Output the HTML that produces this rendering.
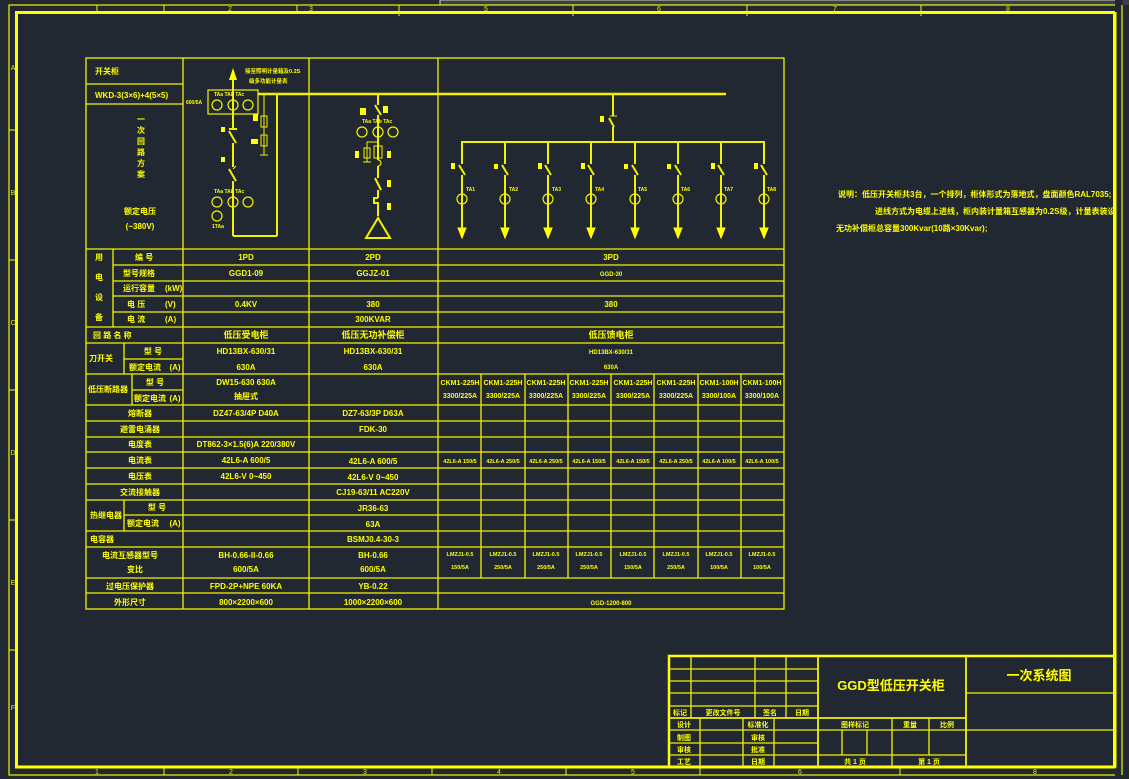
<!DOCTYPE html>
<html><head><meta charset="utf-8"><style>
html,body{margin:0;padding:0;background:#222831;}
svg{display:block;}
text{font-family:"Liberation Sans","Noto Sans CJK SC",sans-serif;fill:#ffff00;font-weight:bold;}
.t{font-size:8px;text-anchor:middle;}
.l{font-size:8px;}
.s{font-size:7px;text-anchor:middle;font-weight:normal;fill:#e8e800;}
.g line,.g rect,.g path,.g circle,.g polyline{stroke:#f2f200;fill:none;}
</style></head><body>
<svg width="1129" height="779" viewBox="0 0 1129 779" xmlns="http://www.w3.org/2000/svg">
<rect width="1129" height="779" fill="#222831"/>
<!-- top window strip -->
<rect x="440" y="0" width="689" height="5" fill="#3a3f46" stroke="#cfcfcf" stroke-width="1"/>
<g class="g">
<!-- frames -->
<rect x="9" y="5" width="1113" height="770" stroke-width="1.2"/>
<rect x="16.5" y="12.5" width="1098" height="754.5" stroke-width="3" style="stroke:#ffff00"/>
<!-- ruler ticks -->
<g stroke-width="1">
<line x1="97" y1="5" x2="97" y2="12"/><line x1="164" y1="5" x2="164" y2="12"/><line x1="297" y1="5" x2="297" y2="12"/><line x1="399" y1="5" x2="399" y2="16"/><line x1="573" y1="5" x2="573" y2="16"/><line x1="747" y1="5" x2="747" y2="16"/><line x1="921" y1="5" x2="921" y2="16"/>
<line x1="164" y1="767" x2="164" y2="775"/><line x1="298" y1="767" x2="298" y2="775"/><line x1="432" y1="767" x2="432" y2="775"/><line x1="566" y1="767" x2="566" y2="775"/><line x1="700" y1="767" x2="700" y2="775"/><line x1="900" y1="767" x2="900" y2="775"/>
<line x1="9" y1="130" x2="16" y2="130"/><line x1="9" y1="260" x2="16" y2="260"/><line x1="9" y1="390" x2="16" y2="390"/><line x1="9" y1="520" x2="16" y2="520"/><line x1="9" y1="650" x2="16" y2="650"/>
<line x1="1115" y1="130" x2="1122" y2="130"/><line x1="1115" y1="390" x2="1122" y2="390"/><line x1="1115" y1="650" x2="1122" y2="650"/>
</g>
</g>
<g font-size="6">
<text x="230" y="11" class="s">2</text><text x="311" y="11" class="s">3</text><text x="486" y="11" class="s">5</text><text x="659" y="11" class="s">6</text><text x="835" y="11" class="s">7</text><text x="1008" y="11" class="s">8</text>
<text x="97" y="774" class="s">1</text><text x="231" y="774" class="s">2</text><text x="365" y="774" class="s">3</text><text x="499" y="774" class="s">4</text><text x="633" y="774" class="s">5</text><text x="800" y="774" class="s">6</text><text x="1035" y="774" class="s">8</text>
<text x="13" y="70" class="s">A</text><text x="13" y="195" class="s">B</text><text x="13" y="325" class="s">C</text><text x="13" y="455" class="s">D</text><text x="13" y="585" class="s">E</text><text x="13" y="710" class="s">F</text>
</g>

<!-- main table -->
<g class="g" stroke-width="1.3">
<rect x="86" y="58" width="698" height="551"/>
<line x1="183" y1="58" x2="183" y2="609"/>
<line x1="309" y1="58" x2="309" y2="609"/>
<line x1="438" y1="58" x2="438" y2="609"/>
<line x1="86" y1="84" x2="183" y2="84"/>
<line x1="86" y1="104" x2="183" y2="104"/>
<line x1="86" y1="249" x2="784" y2="249"/>
<line x1="113" y1="249" x2="113" y2="327"/>
<line x1="113" y1="265" x2="784" y2="265"/>
<line x1="113" y1="281" x2="784" y2="281"/>
<line x1="113" y1="296" x2="784" y2="296"/>
<line x1="113" y1="312" x2="784" y2="312"/>
<line x1="86" y1="327" x2="784" y2="327"/>
<line x1="86" y1="343" x2="784" y2="343"/>
<line x1="124" y1="343" x2="124" y2="374"/>
<line x1="124" y1="359" x2="183" y2="359"/>
<line x1="86" y1="374" x2="784" y2="374"/>
<line x1="132" y1="374" x2="132" y2="405"/>
<line x1="132" y1="390" x2="183" y2="390"/>
<line x1="86" y1="405" x2="784" y2="405"/>
<line x1="86" y1="421" x2="784" y2="421"/>
<line x1="86" y1="437" x2="784" y2="437"/>
<line x1="86" y1="452" x2="784" y2="452"/>
<line x1="86" y1="468" x2="784" y2="468"/>
<line x1="86" y1="484" x2="784" y2="484"/>
<line x1="86" y1="500" x2="784" y2="500"/>
<line x1="124" y1="500" x2="124" y2="531"/>
<line x1="124" y1="515" x2="784" y2="515"/>
<line x1="86" y1="531" x2="784" y2="531"/>
<line x1="86" y1="547" x2="784" y2="547"/>
<line x1="86" y1="578" x2="784" y2="578"/>
<line x1="86" y1="593" x2="784" y2="593"/>
<!-- sub columns right -->
<line x1="481" y1="374" x2="481" y2="578"/>
<line x1="525" y1="374" x2="525" y2="578"/>
<line x1="568" y1="374" x2="568" y2="578"/>
<line x1="611" y1="374" x2="611" y2="578"/>
<line x1="654" y1="374" x2="654" y2="578"/>
<line x1="698" y1="374" x2="698" y2="578"/>
<line x1="741" y1="374" x2="741" y2="578"/>
</g>

<!-- left label texts -->
<text x="95" y="74" class="l">开关柜</text>
<text x="95" y="98" class="l" font-size="7">WKD-3(3×6)+4(5×5)</text>
<text x="141" y="122" class="t">一</text><text x="141" y="133" class="t">次</text><text x="141" y="144" class="t">回</text><text x="141" y="155" class="t">路</text><text x="141" y="166" class="t">方</text><text x="141" y="177" class="t">案</text>
<text x="140" y="214" class="t">额定电压</text>
<text x="140" y="229" class="t">(~380V)</text>
<text x="99" y="260" class="t">用</text><text x="99" y="280" class="t">电</text><text x="99" y="300" class="t">设</text><text x="99" y="320" class="t">备</text>
<text x="135" y="260" class="l">编 号</text>
<text x="123" y="276" class="l">型号规格</text>
<text x="123" y="291" class="l">运行容量</text><text x="165" y="291" class="l">(kW)</text>
<text x="127" y="307" class="l">电 压</text><text x="165" y="307" class="l">(V)</text>
<text x="127" y="322" class="l">电 流</text><text x="165" y="322" class="l">(A)</text>
<text x="93" y="338" class="l">回 路 名 称</text>
<text x="89" y="361" class="l">刀开关</text>
<text x="153" y="354" class="t">型 号</text>
<text x="145" y="370" class="t">额定电流</text><text x="175" y="370" class="t">(A)</text>
<text x="88" y="392" class="l" font-size="7">低压断路器</text>
<text x="155" y="385" class="t">型 号</text>
<text x="150" y="401" class="t">额定电流</text><text x="175" y="401" class="t">(A)</text>
<text x="140" y="416" class="t">熔断器</text>
<text x="140" y="432" class="t">避雷电涌器</text>
<text x="140" y="447" class="t">电度表</text>
<text x="140" y="463" class="t">电流表</text>
<text x="140" y="479" class="t">电压表</text>
<text x="140" y="495" class="t">交流接触器</text>
<text x="90" y="518" class="l">热继电器</text>
<text x="157" y="510" class="t">型 号</text>
<text x="143" y="526" class="t">额定电流</text><text x="175" y="526" class="t">(A)</text>
<text x="90" y="542" class="l">电容器</text>
<text x="130" y="558" class="t">电流互感器型号</text>
<text x="135" y="572" class="t">变比</text>
<text x="130" y="589" class="t">过电压保护器</text>
<text x="130" y="605" class="t">外形尺寸</text>

<!-- column 1 -->
<g class="t">
<text x="246" y="260">1PD</text><text x="246" y="276">GGD1-09</text><text x="246" y="307">0.4KV</text>
<text x="246" y="338" font-size="9">低压受电柜</text>
<text x="246" y="354">HD13BX-630/31</text><text x="246" y="370">630A</text>
<text x="246" y="385">DW15-630 630A</text><text x="246" y="399">抽屉式</text>
<text x="246" y="416">DZ47-63/4P D40A</text>
<text x="246" y="447">DT862-3×1.5(6)A 220/380V</text>
<text x="246" y="463">42L6-A 600/5</text><text x="246" y="479">42L6-V 0~450</text>
<text x="246" y="558">BH-0.66-II-0.66</text><text x="246" y="572">600/5A</text>
<text x="246" y="589">FPD-2P+NPE 60KA</text><text x="246" y="605">800×2200×600</text>
</g>
<!-- column 2 -->
<g class="t">
<text x="373" y="260">2PD</text><text x="373" y="276">GGJZ-01</text><text x="373" y="307">380</text><text x="373" y="322">300KVAR</text>
<text x="373" y="338" font-size="9">低压无功补偿柜</text>
<text x="373" y="354">HD13BX-630/31</text><text x="373" y="370">630A</text>
<text x="373" y="416">DZ7-63/3P D63A</text><text x="373" y="432">FDK-30</text>
<text x="373" y="464">42L6-A 600/5</text><text x="373" y="480">42L6-V 0~450</text>
<text x="373" y="495">CJ19-63/11 AC220V</text><text x="373" y="511">JR36-63</text><text x="373" y="527">63A</text>
<text x="373" y="542">BSMJ0.4-30-3</text>
<text x="373" y="558">BH-0.66</text><text x="373" y="572">600/5A</text>
<text x="373" y="589">YB-0.22</text><text x="373" y="605">1000×2200×600</text>
</g>
<!-- column 3 -->
<g class="t">
<text x="611" y="260">3PD</text><text x="611" y="276" font-size="6">GGD-30</text><text x="611" y="307">380</text>
<text x="611" y="338" font-size="9">低压馈电柜</text>
<text x="611" y="354" font-size="6">HD13BX-630/31</text><text x="611" y="369" font-size="6">630A</text>
<text x="611" y="605" font-size="6">GGD-1200-800</text>
</g>
<g class="s">
<text x="460" y="385">CKM1-225H</text><text x="460" y="398">3300/225A</text>
<text x="503" y="385">CKM1-225H</text><text x="503" y="398">3300/225A</text>
<text x="546" y="385">CKM1-225H</text><text x="546" y="398">3300/225A</text>
<text x="589" y="385">CKM1-225H</text><text x="589" y="398">3300/225A</text>
<text x="633" y="385">CKM1-225H</text><text x="633" y="398">3300/225A</text>
<text x="676" y="385">CKM1-225H</text><text x="676" y="398">3300/225A</text>
<text x="719" y="385">CKM1-100H</text><text x="719" y="398">3300/100A</text>
<text x="762" y="385">CKM1-100H</text><text x="762" y="398">3300/100A</text>
</g>
<g class="t" font-size="5.5" style="font-size:5.5px">
<text x="460" y="463">42L6-A 150/5</text><text x="503" y="463">42L6-A 250/5</text><text x="546" y="463">42L6-A 250/5</text><text x="589" y="463">42L6-A 150/5</text><text x="633" y="463">42L6-A 150/5</text><text x="676" y="463">42L6-A 250/5</text><text x="719" y="463">42L6-A 100/5</text><text x="762" y="463">42L6-A 100/5</text>
<text x="460" y="556">LMZJ1-0.5</text><text x="460" y="569">150/5A</text>
<text x="503" y="556">LMZJ1-0.5</text><text x="503" y="569">250/5A</text>
<text x="546" y="556">LMZJ1-0.5</text><text x="546" y="569">250/5A</text>
<text x="589" y="556">LMZJ1-0.5</text><text x="589" y="569">250/5A</text>
<text x="633" y="556">LMZJ1-0.5</text><text x="633" y="569">150/5A</text>
<text x="676" y="556">LMZJ1-0.5</text><text x="676" y="569">250/5A</text>
<text x="719" y="556">LMZJ1-0.5</text><text x="719" y="569">100/5A</text>
<text x="762" y="556">LMZJ1-0.5</text><text x="762" y="569">100/5A</text>
</g>

<!-- schematic -->
<g class="g" stroke-width="2">
<line x1="258" y1="94" x2="726" y2="94" stroke-width="2.5"/>
<!-- 1PD -->
<line x1="233" y1="75" x2="233" y2="129"/>
<line x1="229" y1="129" x2="237" y2="129"/>
<line x1="229" y1="131" x2="236" y2="143"/>
<line x1="233" y1="143" x2="233" y2="167"/>
<line x1="229" y1="169" x2="236" y2="181"/>
<line x1="233" y1="169" x2="236" y2="166" stroke-width="1"/>
<line x1="233" y1="181" x2="233" y2="236"/>
<line x1="233" y1="236" x2="277" y2="236"/>
<line x1="277" y1="236" x2="277" y2="94"/>
<line x1="264" y1="94" x2="264" y2="155" stroke-width="1"/>
<rect x="261" y="116" width="6" height="11" stroke-width="1"/>
<rect x="261" y="135" width="6" height="11" stroke-width="1"/>
<line x1="260" y1="155" x2="268" y2="155" stroke-width="1"/>
<rect x="208" y="90" width="50" height="24" stroke-width="1.2"/>
<circle cx="217" cy="105" r="5" stroke-width="1.2"/><circle cx="233" cy="105" r="5" stroke-width="1.2"/><circle cx="248" cy="105" r="5" stroke-width="1.2"/>
<circle cx="217" cy="202" r="5" stroke-width="1.2"/><circle cx="233" cy="202" r="5" stroke-width="1.2"/><circle cx="248" cy="202" r="5" stroke-width="1.2"/>
<circle cx="217" cy="216" r="5" stroke-width="1.2"/>
<!-- 2PD -->
<line x1="378" y1="94" x2="378" y2="105"/>
<line x1="375" y1="105" x2="381" y2="115"/>
<line x1="378" y1="115" x2="378" y2="160"/>
<circle cx="362" cy="132" r="5" stroke-width="1.2"/><circle cx="378" cy="132" r="5" stroke-width="1.2"/><circle cx="393" cy="132" r="5" stroke-width="1.2"/>
<polyline points="378,142 367,142 367,162" stroke-width="1"/>
<rect x="364" y="148" width="6" height="10" stroke-width="1"/>
<line x1="363" y1="162" x2="371" y2="162" stroke-width="1"/>
<rect x="374" y="146" width="8" height="12" stroke-width="1"/>
<path d="M378 160 a3 3 0 1 1 0 6" stroke-width="1.2"/>
<line x1="378" y1="166" x2="378" y2="178"/>
<line x1="375" y1="178" x2="381" y2="190"/>
<line x1="378" y1="190" x2="378" y2="198"/>
<polyline points="378,198 374,198 374,203 378,203 378,216"/>
<polygon points="378,218 366,238 390,238" style="stroke:#f2f200;fill:none" stroke-width="2"/>
<!-- 3PD -->
<line x1="613" y1="94" x2="613" y2="116"/>
<line x1="610" y1="116" x2="617" y2="116" stroke-width="1"/>
<line x1="609" y1="118" x2="614" y2="127"/>
<line x1="613" y1="127" x2="613" y2="142"/>
<line x1="461" y1="142" x2="765" y2="142"/>
</g>
<!-- feeder drops -->
<g class="g" stroke-width="2">
<g id="d"><line x1="462" y1="142" x2="462" y2="164"/><line x1="459" y1="165" x2="465" y2="175"/><line x1="462" y1="175" x2="462" y2="230"/><circle cx="462" cy="199" r="5" stroke-width="1.2"/><polygon points="458,228 466,228 462,238" style="fill:#ffff00;stroke:#ffff00" stroke-width="1"/></g>
<use href="#d" x="43"/><use href="#d" x="86"/><use href="#d" x="129"/><use href="#d" x="173"/><use href="#d" x="216"/><use href="#d" x="259"/><use href="#d" x="302"/>
</g>
<!-- small labels -->
<g fill="#ffff00">
<polygon points="233,68 229,80 237,80"/>
<rect x="221" y="127" width="4" height="5"/><rect x="221" y="157" width="4" height="5"/><rect x="253" y="114" width="5" height="7"/><rect x="251" y="139" width="7" height="5"/>
<rect x="360" y="108" width="6" height="7"/><rect x="383" y="106" width="5" height="7"/><rect x="355" y="151" width="4" height="7"/><rect x="387" y="151" width="4" height="7"/><rect x="387" y="180" width="4" height="7"/><rect x="387" y="203" width="4" height="7"/>
<rect x="600" y="116" width="4" height="6"/>
<rect x="451" y="163" width="4" height="6"/><rect x="494" y="164" width="4" height="5"/><rect x="538" y="163" width="4" height="6"/><rect x="581" y="163" width="4" height="6"/><rect x="624" y="164" width="4" height="5"/><rect x="667" y="164" width="4" height="5"/><rect x="711" y="163" width="4" height="6"/><rect x="754" y="163" width="4" height="6"/>
</g>
<g style="font-size:5px" class="l">
<text x="214" y="96" style="font-size:5px">TAa TAb TAc</text><text x="186" y="104" style="font-size:5px">600/5A</text>
<text x="214" y="193" style="font-size:5px">TAa TAb TAc</text><text x="212" y="228" style="font-size:5px">1TAa</text>
<text x="245" y="73" style="font-size:5.5px">接至照明计量箱及0.2S</text><text x="249" y="83" style="font-size:5.5px">级多功能计量表</text>
<text x="362" y="123" style="font-size:5px">TAa TAb TAc</text>
<text x="466" y="191" style="font-size:5px">TA1</text><text x="509" y="191" style="font-size:5px">TA2</text><text x="552" y="191" style="font-size:5px">TA3</text><text x="595" y="191" style="font-size:5px">TA4</text><text x="638" y="191" style="font-size:5px">TA5</text><text x="681" y="191" style="font-size:5px">TA6</text><text x="724" y="191" style="font-size:5px">TA7</text><text x="767" y="191" style="font-size:5px">TA8</text>
</g>

<!-- notes -->
<text x="838" y="197" class="l">说明：低压开关柜共3台，一个排列，柜体形式为落地式，盘面颜色RAL7035;</text>
<text x="875" y="214" class="l">进线方式为电缆上进线，柜内装计量箱互感器为0.2S级，计量表装设电脑箱</text>
<text x="836" y="231" class="l">无功补偿柜总容量300Kvar(10路×30Kvar);</text>
<rect x="1115" y="0" width="14" height="779" fill="#222831"/>
<g class="g"><line x1="1122" y1="5" x2="1122" y2="775" stroke-width="1.2"/><line x1="1115" y1="12" x2="1115" y2="767" stroke-width="3" style="stroke:#ffff00"/></g>
<rect x="1123" y="0" width="6" height="5" fill="#3a3f46"/>

<!-- title block -->
<g class="g" stroke-width="1.3">
<rect x="669" y="656" width="446" height="111" stroke-width="2.5" style="stroke:#ffff00"/>
<line x1="818" y1="656" x2="818" y2="767" stroke-width="1.8"/>
<line x1="966" y1="656" x2="966" y2="767" stroke-width="1.8"/>
<line x1="669" y1="669" x2="818" y2="669"/><line x1="669" y1="681" x2="818" y2="681"/><line x1="669" y1="693" x2="818" y2="693"/><line x1="669" y1="706" x2="818" y2="706"/>
<line x1="669" y1="718" x2="966" y2="718" stroke-width="1.8"/>
<line x1="691" y1="656" x2="691" y2="718"/><line x1="755" y1="656" x2="755" y2="718"/><line x1="786" y1="656" x2="786" y2="718"/>
<line x1="669" y1="730" x2="966" y2="730"/><line x1="669" y1="743" x2="818" y2="743"/><line x1="669" y1="755" x2="966" y2="755"/>
<line x1="700" y1="718" x2="700" y2="767"/><line x1="743" y1="718" x2="743" y2="767"/><line x1="774" y1="718" x2="774" y2="767"/>
<line x1="892" y1="718" x2="892" y2="767"/><line x1="929" y1="718" x2="929" y2="755"/>
<line x1="842" y1="730" x2="842" y2="755"/><line x1="867" y1="730" x2="867" y2="755"/>
<line x1="966" y1="693" x2="1115" y2="693"/><line x1="966" y1="730" x2="1115" y2="730"/>
</g>
<g class="t" style="font-size:7px">
<text x="680" y="715">标记</text><text x="723" y="715">更改文件号</text><text x="770" y="715">签名</text><text x="802" y="715">日期</text>
<text x="684" y="727">设计</text><text x="758" y="727">标准化</text>
<text x="684" y="740">制图</text><text x="758" y="740">审核</text>
<text x="684" y="752">审核</text><text x="758" y="752">批准</text>
<text x="684" y="764">工艺</text><text x="758" y="764">日期</text>
<text x="855" y="727">图样标记</text><text x="910" y="727">重量</text><text x="947" y="727">比例</text>
<text x="855" y="764">共 1 页</text><text x="929" y="764">第 1 页</text>
</g>
<text x="891" y="690" class="t" style="font-size:13px">GGD型低压开关柜</text>
<text x="1039" y="680" class="t" style="font-size:13px">一次系统图</text>
</svg>
</body></html>
